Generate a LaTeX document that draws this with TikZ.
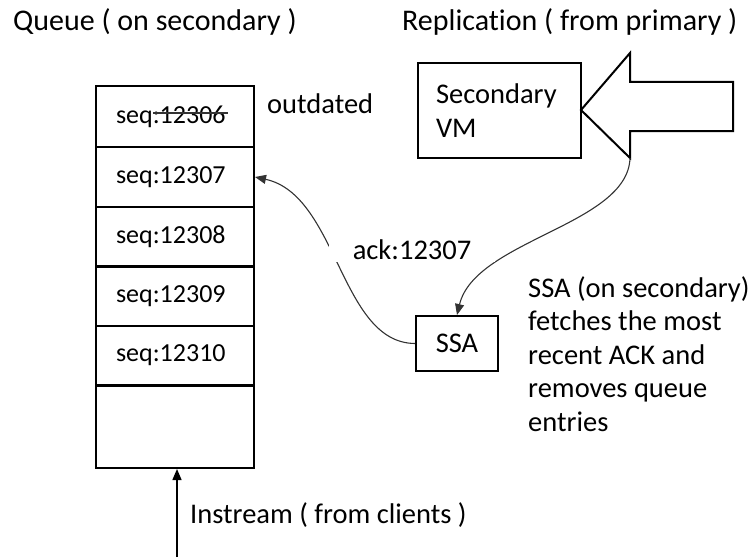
\documentclass[tikz,border=0pt]{standalone}
\usepackage{fontspec}
\setmainfont[Ligatures=NoCommon]{Carlito}
\usetikzlibrary{arrows.meta}
\tikzset{
  big/.style={font=\fontsize{28.5}{33.5}\selectfont},
  title/.style={font=\fontsize{30}{36}\selectfont},
  cell/.style={draw=black, line width=2pt, rectangle, minimum width=158pt, minimum height=60pt,
    text width=118pt, inner xsep=20pt, inner ysep=0pt, align=left, font=\fontsize{26}{30}\selectfont},
  boxx/.style={draw=black, line width=2pt, rectangle},
  thin/.style={draw=black!80, line width=1.1pt},
  tip/.style={-{Triangle[length=11pt,width=9pt]}}
}
\begin{document}
\begin{tikzpicture}[x=1pt,y=-1pt]
\useasboundingbox (0,0) rectangle (751,559);
% titles
\node[title, anchor=west, inner sep=0] (tq) at (13,22) {Queue ( on secondary )};
\node[title, anchor=west, inner sep=0] (tr) at (402,22) {Replication ( from primary )};
% queue cells
\node[cell] (c1) at (175,116.5) {seq:12306};
\node[cell] (c2) at (175,177) {seq:12307};
\node[cell] (c3) at (175,236.5) {seq:12308};
\node[cell] (c4) at (175,296) {seq:12309};
\node[cell] (c5) at (175,355.5) {seq:12310};
\node[cell, minimum height=83pt] (c6) at (175,426.5) {};
\draw[thin] ([shift={(-22,-3.5)}]c1.center) -- ([shift={(53,-3.5)}]c1.center);
\node[big, anchor=west, inner sep=0] (out) at (267,104) {outdated};
% secondary VM
\node[boxx, big, minimum width=163pt, minimum height=95pt, text width=127pt, inner xsep=18pt, align=left] (vm) at (499.5,110.5) {Secondary\\VM};
% big replication arrow
\coordinate (at) at (581,110);
\coordinate (ht) at (630,53);
\coordinate (hb) at (630,158);
\draw[line width=2pt, line join=miter] (at) -- (ht) -- (630,82) -- (733,82) -- (733,131) -- (630,131) -- (hb) -- cycle;
% SSA
\node[boxx, big, minimum width=82pt, minimum height=55pt] (ssa) at (457,343.5) {SSA};
% curves
\draw[thin, tip] (hb) .. controls (628,225) and (475,240) .. (ssa.north);
\draw[thin, tip] (ssa.west) .. controls (340,343) and (338,195) .. (c2.east);
\node[big, fill=white, inner xsep=24pt, inner ysep=2pt] (ack) at (412,250) {ack:12307};
% SSA description
\node[big, anchor=north west, inner sep=0, align=left] (desc) at (528,276) {SSA (on secondary)\\fetches the most\\recent ACK and\\removes queue\\entries};
% instream
\coordinate (in) at (177,557);
\draw[line width=1.5pt, tip] (in) -- (c6.south -| in);
\node[big, anchor=west, inner sep=0] (inl) at (190,515) {Instream ( from clients )};
\end{tikzpicture}
\end{document}
